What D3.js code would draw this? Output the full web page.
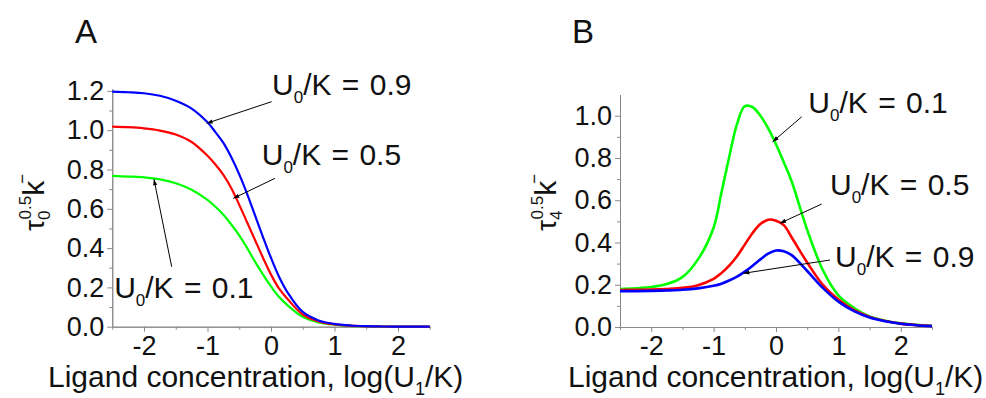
<!DOCTYPE html>
<html>
<head>
<meta charset="utf-8">
<script src="https://cdn.jsdelivr.net/npm/d3@7"></script>
<style>
  body { margin: 0; background: #fff; }
  svg { display: block; font-family: "Liberation Sans", Arial, sans-serif; }
</style>
</head>
<body>
<svg id="chart" width="986" height="398"></svg>
<script>
// x grid: log(U1/K), denser where the curves bend most
const logU = [-2.5, -2.25, -2, -1.75, -1.5, -1.25, -1, -0.875, -0.75, -0.625, -0.5, -0.375, -0.25, -0.125, 0, 0.125, 0.25, 0.5, 0.75, 1, 1.25, 1.5, 1.75, 2, 2.25, 2.5];

// panel A, tau0^0.5 k^- for U0/K = 0.1, 0.5, 0.9
const tau0_u01 = [0.767, 0.764, 0.760, 0.750, 0.730, 0.697, 0.645, 0.610, 0.570, 0.520, 0.465, 0.400, 0.330, 0.265, 0.205, 0.152, 0.112, 0.050, 0.022, 0.010, 0.004, 0.002, 0.001, 0, 0, 0];
const tau0_u05 = [1.018, 1.015, 1.009, 0.998, 0.978, 0.940, 0.870, 0.825, 0.772, 0.705, 0.620, 0.530, 0.440, 0.350, 0.265, 0.195, 0.145, 0.062, 0.027, 0.012, 0.005, 0.002, 0.001, 0, 0, 0];
const tau0_u09 = [1.196, 1.193, 1.188, 1.175, 1.150, 1.110, 1.040, 0.990, 0.935, 0.862, 0.775, 0.675, 0.565, 0.455, 0.350, 0.255, 0.180, 0.075, 0.032, 0.014, 0.006, 0.0025, 0.001, 0, 0, 0];

// panel B, tau4^0.5 k^-
const tau4_u01 = [0.180, 0.183, 0.189, 0.203, 0.236, 0.320, 0.470, 0.635, 0.805, 0.960, 1.045, 1.040, 1.000, 0.940, 0.865, 0.780, 0.690, 0.460, 0.270, 0.150, 0.090, 0.050, 0.030, 0.017, 0.010, 0.006];
const tau4_u05 = [0.175, 0.176, 0.177, 0.180, 0.185, 0.198, 0.228, 0.255, 0.290, 0.335, 0.390, 0.445, 0.487, 0.508, 0.503, 0.482, 0.425, 0.305, 0.200, 0.130, 0.080, 0.048, 0.028, 0.016, 0.009, 0.005];
const tau4_u09 = [0.170, 0.170, 0.171, 0.173, 0.176, 0.183, 0.195, 0.205, 0.220, 0.238, 0.262, 0.290, 0.320, 0.347, 0.362, 0.358, 0.340, 0.265, 0.185, 0.120, 0.075, 0.045, 0.027, 0.015, 0.008, 0.004];

const ratioLabels = ['0.1', '0.5', '0.9'];
const xTicks = [-2, -1, 0, 1, 2];
const xMinorTicks = [-2.5, -1.5, -0.5, 0.5, 1.5, 2.5];
const yTicksA = [0, 0.2, 0.4, 0.6, 0.8, 1.0, 1.2];
const yTicksB = [0, 0.2, 0.4, 0.6, 0.8, 1.0];

const colors = { '0.1': '#00ff00', '0.5': '#ff0000', '0.9': '#0000ff' };

const svg = d3.select('#chart');

svg.append('defs').append('marker')
  .attr('id', 'arrow')
  .attr('viewBox', '0 0 10 10')
  .attr('refX', 10).attr('refY', 5)
  .attr('markerWidth', 7).attr('markerHeight', 6)
  .attr('orient', 'auto')
  .append('path')
  .attr('d', 'M0,1.5 L10,5 L0,8.5 Z')
  .attr('fill', '#000');

function drawPanel(p) {
  const g = svg.append('g');
  const x = d3.scaleLinear().domain([-2.5, 2.5]).range([p.left, p.right]);
  const y = d3.scaleLinear().domain([0, p.yMax]).range([p.bottom, p.top]);

  // minor ticks first
  g.append('g')
    .attr('transform', `translate(0,${p.bottom})`)
    .call(d3.axisBottom(x).tickValues(xMinorTicks).tickSize(3).tickSizeOuter(0).tickFormat(''));
  g.append('g')
    .attr('transform', `translate(${p.left},0)`)
    .call(d3.axisLeft(y).tickValues(d3.range(0.1, p.yMax, 0.2)).tickSize(3).tickSizeOuter(0).tickFormat(''));

  const xAxis = g.append('g')
    .attr('transform', `translate(0,${p.bottom})`)
    .call(d3.axisBottom(x).tickValues(xTicks).tickSize(5).tickPadding(4).tickSizeOuter(0)
      .tickFormat(d => String(d)));
  const yAxis = g.append('g')
    .attr('transform', `translate(${p.left},0)`)
    .call(d3.axisLeft(y).tickValues(p.yTicks).tickSize(5).tickPadding(3).tickSizeOuter(0)
      .tickFormat(d3.format('.1f')));

  g.selectAll('.domain, .tick line').attr('stroke', '#8a8a8a').attr('stroke-width', 1);
  [xAxis, yAxis].forEach(a => a.selectAll('text')
    .attr('font-family', '"Liberation Sans", Arial, sans-serif')
    .attr('font-size', 27).attr('fill', '#111'));

  const line = d3.line()
    .x((d, i) => x(logU[i]))
    .y(d => y(d))
    .curve(d3.curveCatmullRom.alpha(0.5));

  p.series.forEach((vals, i) => {
    g.append('path')
      .attr('d', line(vals))
      .attr('fill', 'none')
      .attr('stroke', colors[ratioLabels[i]])
      .attr('stroke-width', p.lineWidth);
  });

  // panel letter
  g.append('text').attr('x', p.letterX).attr('y', 43)
    .attr('font-size', 33).attr('fill', '#111').text(p.letter);

  // x axis title
  const t = g.append('text').attr('x', p.titleX).attr('y', 387)
    .attr('font-size', 30).attr('fill', '#111');
  t.append('tspan').text('Ligand concentration, log(U');
  t.append('tspan').attr('font-size', 18).attr('dy', 8).text('1');
  t.append('tspan').attr('dy', -8).text('/K)');

  // y axis title
  const yl = g.append('text')
    .attr('transform', `translate(${p.yLabelX},231) rotate(-90)`)
    .attr('font-size', 28).attr('fill', '#111');
  yl.append('tspan').text('τ');
  yl.append('tspan').attr('font-size', 17).attr('dy', 6).text(p.sub);
  yl.append('tspan').attr('font-size', 17).attr('dx', -9).attr('dy', -19).text('0.5');
  yl.append('tspan').attr('font-size', 30).attr('dy', 13).attr('dx', 0).text('k');
  yl.append('tspan').attr('font-size', 17).attr('dy', -16).attr('dx', -3).text('−');

  // annotations with arrows
  p.notes.forEach(n => {
    g.append('line')
      .attr('x1', x(n.tail[0])).attr('y1', y(n.tail[1]))
      .attr('x2', x(n.tip[0])).attr('y2', y(n.tip[1]))
      .attr('stroke', '#000').attr('stroke-width', 1)
      .attr('marker-end', 'url(#arrow)');
    const lt = g.append('text')
      .attr('x', x(n.at[0])).attr('y', y(n.at[1]))
      .attr('font-size', 30).attr('word-spacing', 2).attr('fill', '#111');
    lt.append('tspan').text('U');
    lt.append('tspan').attr('font-size', 17).attr('dy', 8).text('0');
    lt.append('tspan').attr('dy', -8).text(`/K = ${n.ratio}`);
  });
}

drawPanel({
  letter: 'A', letterX: 75, titleX: 48, yLabelX: 44, sub: '0',
  left: 112.25, right: 429.75, bottom: 326.7, top: 88.9, yMax: 1.21,
  yTicks: yTicksA, lineWidth: 2.2,
  series: [tau0_u01, tau0_u05, tau0_u09],
  notes: [
    { ratio: '0.9', at: [0.016, 1.179], tail: [0.01, 1.145], tip: [-1.013, 1.035] },
    { ratio: '0.5', at: [-0.146, 0.823], tail: [0.063, 0.755], tip: [-0.594, 0.653] },
    { ratio: '0.1', at: [-2.47, 0.146], tail: [-1.564, 0.305], tip: [-1.843, 0.75] }
  ]
});

drawPanel({
  letter: 'B', letterX: 572, titleX: 568, yLabelX: 556, sub: '4',
  left: 620, right: 932, bottom: 327, top: 94.6, yMax: 1.1,
  yTicks: yTicksB, lineWidth: 2.6,
  series: [tau4_u01, tau4_u05, tau4_u09],
  notes: [
    { ratio: '0.1', at: [0.518, 1.013], tail: [0.412, 0.995], tip: [-0.053, 0.877] },
    { ratio: '0.5', at: [0.865, 0.625], tail: [0.732, 0.582], tip: [0.064, 0.491] },
    { ratio: '0.9', at: [0.946, 0.284], tail: [0.865, 0.317], tip: [-0.524, 0.254] }
  ]
});
</script>
</body>
</html>
